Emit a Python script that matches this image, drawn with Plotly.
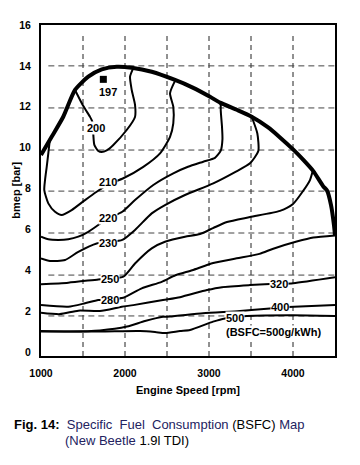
import plotly.graph_objects as go

# ---------------- data ----------------
full_load_rpm = [1000, 1127, 1265, 1405, 1563, 1723, 1901, 2080, 2318, 2595, 2800, 3012,
                 3131, 3330, 3508, 3700, 3845, 4004, 4123, 4242, 4361, 4405, 4452, 4488, 4500]
full_load_bar = [9.64, 10.53, 11.51, 12.82, 13.47, 13.83, 13.96, 13.91, 13.71, 13.31, 12.95, 12.49,
                 12.2, 11.85, 11.51, 11.0, 10.5, 9.9, 9.4, 8.85, 8.1, 7.9, 7.2, 6.2, 5.7]

c200_rpm = [1405, 1504, 1583, 1611, 1623, 1635, 1682, 1723, 1782, 1861, 2020, 2119, 2119, 2080, 2060, 2100]
c200_bar = [12.82, 12.03, 11.51, 11.27, 10.62, 10.13, 9.83, 9.78, 9.86, 10.13, 10.86, 11.5, 12.1, 12.82, 13.47, 13.9]

c210_rpm = [1107, 1087, 1068, 1048, 1039, 1087, 1167, 1246, 1365, 1524, 1663, 1800, 1980, 2218,
            2417, 2536, 2575, 2575, 2536, 2600]
c210_bar = [10.45, 9.72, 9.06, 8.41, 7.92, 7.27, 6.86, 6.70, 6.94, 7.43, 7.84, 8.2, 8.50, 9.06,
            9.72, 10.53, 11.19, 12.00, 12.66, 13.3]

c220_rpm = [1000, 1087, 1206, 1325, 1444, 1563, 1682, 1800, 1968, 2119, 2337, 2575, 2750, 2932,
            3071, 3140, 3160, 3155, 3140, 3140]
c220_bar = [5.64, 5.51, 5.48, 5.51, 5.64, 5.88, 6.21, 6.54, 6.86, 7.43, 8.17, 8.74, 9.06, 9.31,
            9.5, 9.85, 10.4, 11.0, 11.8, 12.2]

c230_rpm = [1000, 1107, 1286, 1444, 1663, 1800, 1968, 2119, 2318, 2476, 2714, 3051, 3310, 3488,
            3587, 3575, 3508]
c230_bar = [4.58, 4.45, 4.50, 4.90, 5.31, 5.38, 5.48, 5.97, 6.78, 7.19, 7.68, 8.25, 8.80, 9.23,
            9.83, 10.70, 11.51]

c250_rpm = [1000, 1325, 1682, 1820, 1980, 2119, 2318, 2476, 2714, 2893, 3048, 3214, 3488, 3845,
            4000, 4119, 4202, 4238]
c250_bar = [3.31, 3.39, 3.55, 3.6, 3.68, 4.33, 5.07, 5.39, 5.64, 5.77, 6.06, 6.36, 6.60, 6.90,
            7.24, 7.87, 8.41, 8.90]

c280_rpm = [1000, 1325, 1524, 1682, 1820, 1980, 2199, 2437, 2600, 2800, 3050, 3330, 3600, 3765,
            4044, 4242, 4500]
c280_bar = [2.29, 2.21, 2.38, 2.54, 2.58, 2.65, 3.11, 3.43, 3.75, 4.0, 4.35, 4.58, 4.8, 5.05,
            5.4, 5.6, 5.7]

c320_rpm = [1000, 1226, 1444, 1702, 1961, 2099, 2452, 2655, 2976, 3155, 3488, 3726, 3845, 4004, 4500]
c320_bar = [1.92, 1.85, 2.02, 2.0, 2.21, 2.29, 2.54, 2.68, 3.03, 3.17, 3.27, 3.32, 3.33, 3.36, 3.65]

c400_rpm = [1000, 1345, 1702, 2024, 2238, 2452, 2536, 2929, 3369, 3726, 3845, 4083, 4500]
c400_bar = [1.02, 1.00, 1.05, 1.24, 1.51, 1.72, 1.73, 1.89, 2.00, 2.13, 2.18, 2.22, 2.29]

c500_rpm = [1000, 1702, 2179, 2357, 2476, 2655, 2774, 3048, 3190, 3321, 3452, 4000, 4500]
c500_bar = [1.00, 1.00, 1.02, 0.97, 0.92, 1.02, 1.07, 1.48, 1.64, 1.70, 1.76, 1.80, 1.76]

best_point_rpm = [1742]
best_point_bar = [13.34]

label_text = ["197", "200", "210", "220", "230", "250", "280", "320", "400", "500", "(BSFC=500g/kWh)"]
label_rpm = [1800, 1651, 1798, 1801, 1798, 1821, 1821, 3833, 3845, 3310, 3770]
label_bar = [12.74, 10.94, 8.31, 6.54, 5.31, 3.55, 2.56, 3.31, 2.18, 1.64, 0.99]

x_ticks = [1000, 2000, 3000, 4000]
y_ticks = [0, 2, 4, 6, 8, 10, 12, 14, 16]
grid_x = [1500, 2000, 2500, 3000, 3500, 4000]
grid_y = [14.0, 11.94, 9.88, 7.87, 5.82, 3.76, 1.76]

# ---------------- figure ----------------
FONT = "Liberation Sans, Arial, sans-serif"
fig = go.Figure()

contours = [
    (c200_rpm, c200_bar), (c210_rpm, c210_bar), (c220_rpm, c220_bar), (c230_rpm, c230_bar),
    (c250_rpm, c250_bar), (c280_rpm, c280_bar), (c320_rpm, c320_bar), (c400_rpm, c400_bar),
    (c500_rpm, c500_bar),
]
for xs, ys in contours:
    fig.add_trace(go.Scatter(x=xs, y=ys, mode="lines",
                             line=dict(color="black", width=2, shape="spline", smoothing=0.6),
                             hoverinfo="skip", showlegend=False))

fig.add_trace(go.Scatter(x=full_load_rpm, y=full_load_bar, mode="lines",
                         line=dict(color="black", width=4, shape="spline", smoothing=0.6),
                         hoverinfo="skip", showlegend=False))

fig.add_trace(go.Scatter(x=best_point_rpm, y=best_point_bar, mode="markers",
                         marker=dict(symbol="square", size=7, color="black"),
                         hoverinfo="skip", showlegend=False))

# dashed grid
for gx in grid_x:
    fig.add_shape(type="line", xref="x", yref="paper", x0=gx, x1=gx, y0=0, y1=0.978,
                  line=dict(color="#222", width=1, dash="5px,4px"), layer="below")
for gy in grid_y:
    fig.add_shape(type="line", xref="paper", yref="y", x0=0.025, x1=1, y0=gy, y1=gy,
                  line=dict(color="#444", width=1, dash="6px,4px"), layer="below")

for t, xv, yv in zip(label_text, label_rpm, label_bar):
    fig.add_annotation(x=xv, y=yv, text="<b>%s</b>" % t, showarrow=False,
                       xanchor="center", yanchor="middle",
                       font=dict(family=FONT, size=11, color="black"),
                       bgcolor="white", borderpad=0)

# axis titles and caption
fig.add_annotation(xref="paper", yref="paper", x=0.5, y=-0.1027, xanchor="center", yanchor="middle",
                   text="<b>Engine Speed [rpm]</b>",
                   showarrow=False, font=dict(family=FONT, size=11, color="black"))
fig.add_annotation(xref="paper", yref="paper", x=-0.088, y=0.5, xanchor="center", yanchor="middle",
                   text="<b>bmep [bar]</b>", textangle=-90,
                   showarrow=False, font=dict(family=FONT, size=11, color="black"))
navy = "#23235f"
fig.add_annotation(xref="paper", yref="paper", x=-0.099, y=-0.208, xanchor="left", yanchor="middle",
                   text=("<b>Fig. 14:</b>&nbsp; <span style='color:%s'>Specific&nbsp; Fuel&nbsp; Consumption</span> "
                         "(BSFC) <span style='color:%s'>Map</span>") % (navy, navy),
                   showarrow=False, font=dict(family=FONT, size=13, color="black"))
fig.add_annotation(xref="paper", yref="paper", x=0.075, y=-0.256, xanchor="left", yanchor="middle",
                   text="<span style='color:%s'>(New Beetle</span> 1.9l TDI)" % navy,
                   showarrow=False, font=dict(family=FONT, size=13, color="black"))

fig.update_xaxes(range=[1000, 4500], tickvals=x_ticks, ticktext=[str(v) for v in x_ticks],
                 showgrid=False, zeroline=False, showline=True, linecolor="black", linewidth=2,
                 mirror=True, ticks="", ticklabelstandoff=6,
                 tickfont=dict(family=FONT, size=10.5, color="black", weight="bold"))
fig.update_yaxes(range=[-0.2, 16], tickvals=y_ticks, ticktext=[str(v) for v in y_ticks],
                 showgrid=False, zeroline=False, showline=True, linecolor="black", linewidth=2,
                 mirror=True, ticks="", ticklabelstandoff=6,
                 tickfont=dict(family=FONT, size=10.5, color="black", weight="bold"))

# the page adds an 8px body margin, so the figure is sized/offset to compensate
fig.update_layout(width=352, height=457, margin=dict(l=33, r=25, t=17, b=109),
                  paper_bgcolor="white", plot_bgcolor="white")

fig.write_html("out.html")
